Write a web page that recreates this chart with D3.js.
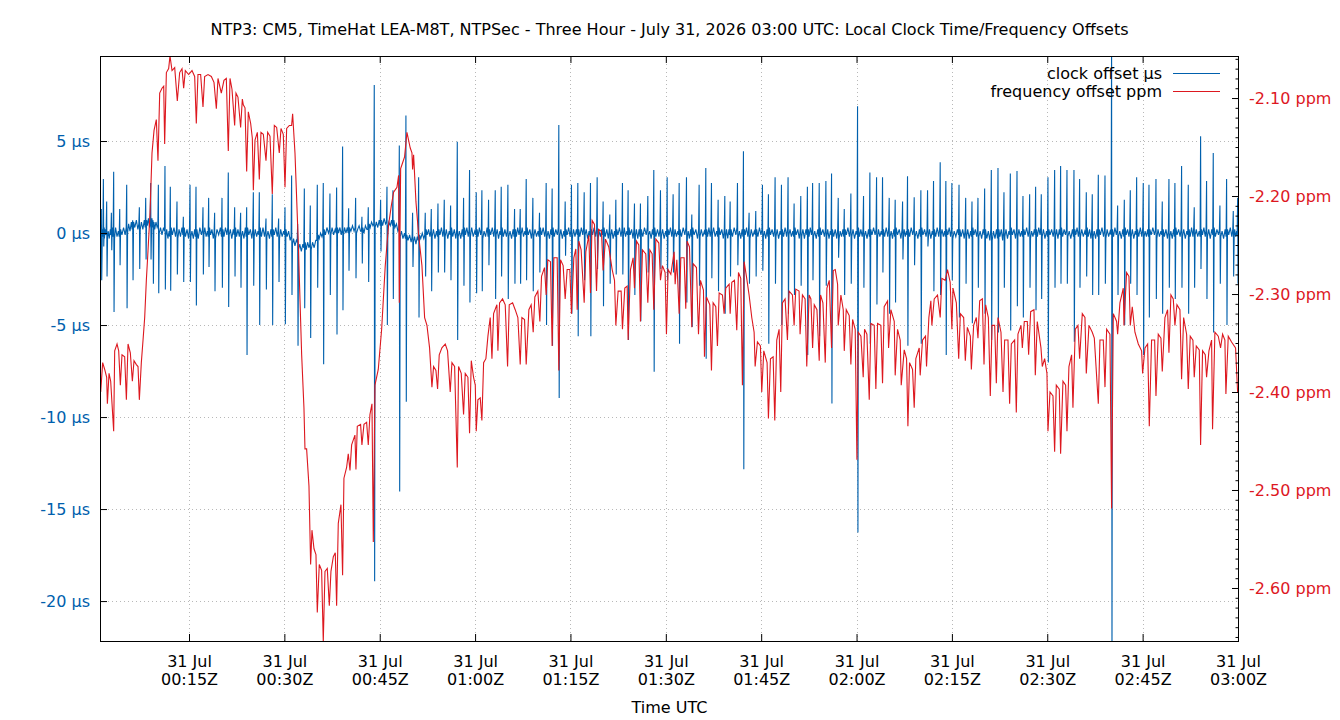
<!DOCTYPE html>
<html>
<head>
<meta charset="utf-8">
<script src="https://cdn.jsdelivr.net/npm/d3@7"></script>
<style>
  body { margin: 0; background: #fff; }
  svg { display: block; font-family: "DejaVu Sans", sans-serif; }
</style>
</head>
<body>
<div id="chart"></div>
<script>
// minutes after 00:00 UTC, 31 Jul 2026
const titleText = "NTP3: CM5, TimeHat LEA-M8T, NTPSec - Three Hour - July 31, 2026 03:00 UTC: Local Clock Time/Frequency Offsets";
const legendNames = ["clock offset µs", "frequency offset ppm"];
const clockTicks = [-20, -15, -10, -5, 0, 5];
const freqTicks = [-2.6, -2.5, -2.4, -2.3, -2.2, -2.1];

// clock offset, one row per poll spike:
// [minute, peak µs, trough µs, base before, base after, then three base readings across the gap]
const clockRows = [
  [1.21,1.30,-2.56,0.1,-0.3,0.2,-0.2,0.3],[1.53,2.93,-0.73,-0.2,0.3,-0.3,0.2,-0.1],[2.05,1.71,-2.36,0.2,-0.2,0.1,-0.3,0.2],
  [2.79,1.10,-0.93,-0.1,0.3,-0.2,0.3,-0.2],[3.15,3.33,-4.29,0.2,-0.3,0.3,-0.2,0.1],[4.10,1.30,-1.75,-0.2,0.2,-0.1,0.3,-0.1],
  [5.20,2.62,-4.09,0.3,0.0,0.5,0.1,0.6],[6.14,0.69,-2.56,0.2,0.6,0.3,0.7,0.2],[7.19,1.40,-1.95,0.5,0.2,0.6,0.2,0.7],
  [8.19,1.91,-1.44,0.3,0.7,0.4,0.8,0.3],[8.97,2.72,-1.44,0.6,0.2,0.5,0.8,0.4],[9.34,0.69,-2.76,0.3,0.6,0.2,0.6,0.3],
  [10.18,2.62,-3.27,0.4,0.0,0.3,-0.1,0.3],[11.22,3.64,-3.07,0.1,-0.2,0.2,-0.3,0.1],[12.06,2.52,-3.13,-0.2,0.3,-0.1,0.3,-0.2],
  [13.11,1.71,-2.26,0.2,-0.3,0.2,-0.2,0.3],[14.11,0.89,-2.66,-0.1,0.3,-0.2,0.2,-0.3],[15.16,2.62,-2.66,0.3,-0.2,0.1,-0.3,0.2],
  [16.10,2.52,-3.94,-0.2,0.2,-0.3,0.3,-0.1],[17.20,1.40,-2.26,0.2,-0.1,0.3,-0.2,0.1],[18.09,1.91,-1.85,-0.2,0.3,-0.1,0.2,-0.3],
  [19.03,1.10,-3.17,0.1,-0.3,0.2,-0.1,0.3],[20.19,1.91,-2.97,-0.2,0.2,-0.2,0.3,-0.1],[21.18,3.29,-4.02,0.3,-0.1,0.2,-0.3,0.2],
  [22.18,1.40,-2.36,-0.1,0.3,-0.2,0.2,-0.2],[23.12,1.10,-2.97,0.2,-0.2,0.1,-0.3,0.3],[24.07,1.40,-6.63,-0.2,0.3,-0.1,0.2,-0.3],
  [25.12,2.22,-2.87,0.2,-0.2,0.2,-0.2,0.1],[26.06,2.22,-5.00,-0.1,0.3,-0.2,0.3,-0.2],[27.11,0.79,-3.07,0.2,-0.2,0.1,-0.3,0.2],
  [28.10,2.11,-5.00,-0.2,0.2,-0.1,0.3,-0.2],[29.10,0.79,-2.66,0.2,-0.3,0.2,-0.2,0.1],[30.10,1.40,-4.96,-0.1,0.2,-0.2,0.1,-0.4],
  [31.14,3.13,-3.37,-0.2,-0.6,-0.3,-0.7,-0.4],[32.09,0.49,-6.12,-0.5,-0.9,-0.6,-1.0,-0.6],[33.14,2.42,-4.09,-0.8,-0.5,-0.9,-0.5,-0.8],
  [34.08,1.50,-5.71,-0.6,-0.9,-0.5,-0.8,-0.4],[35.18,2.62,-2.97,-0.4,-0.1,-0.3,0.0,-0.2],[36.12,2.72,-7.13,0.0,0.2,-0.1,0.3,0.0],
  [37.17,2.15,-3.37,0.2,-0.1,0.3,-0.1,0.2],[38.22,2.48,-5.51,0.0,0.3,0.0,0.3,-0.1],[39.16,4.70,-4.19,0.2,-0.1,0.3,0.0,0.3],
  [40.11,1.34,-2.05,0.0,0.3,0.1,0.4,0.1],[41.21,1.91,-2.46,0.3,0.0,0.2,0.4,0.1],[42.20,0.89,-1.65,0.1,0.3,0.0,0.4,0.2],
  [43.20,1.40,-2.66,0.2,0.5,0.3,0.6,0.4],[44.14,8.05,-18.92,0.5,0.3,0.6,0.3,0.7],[45.14,1.81,-1.00,0.4,0.7,0.4,0.8,0.5],
  [46.14,2.52,-5.00,0.6,0.3,0.6,0.4,0.7],[47.08,2.32,-3.58,0.4,0.7,0.3,0.5,0.1],[48.08,4.76,-14.04,0.2,-0.2,0.1,-0.3,0.0],
  [49.12,6.38,-9.17,-0.3,-0.1,-0.4,-0.1,-0.5],[50.17,1.10,-1.85,-0.2,-0.5,-0.2,-0.6,-0.2],[51.12,3.03,-4.59,-0.4,-0.1,-0.3,0.0,-0.3],
  [52.16,1.10,-2.36,-0.1,0.2,-0.1,0.2,-0.2],[53.11,1.30,-3.17,0.1,-0.2,0.2,-0.3,0.1],[54.16,1.61,-2.15,-0.2,0.2,-0.1,0.3,-0.2],
  [55.15,1.81,-2.15,0.2,-0.2,0.2,-0.3,0.1],[56.15,1.50,-2.56,-0.1,0.3,-0.2,0.2,-0.3],[57.20,4.96,-5.81,0.2,-0.2,0.1,-0.3,0.2],
  [58.19,1.91,-2.87,-0.2,0.3,-0.1,0.3,-0.2],[59.13,3.43,-3.78,0.2,-0.2,0.3,-0.2,0.1],[60.18,2.22,-3.27,-0.1,0.2,-0.2,0.3,-0.1],
  [61.07,2.32,-3.17,0.2,-0.3,0.1,-0.2,0.3],[62.12,1.81,-1.75,-0.2,0.2,-0.1,0.3,-0.2],[63.17,2.32,-3.58,0.3,-0.1,0.2,-0.3,0.1],
  [64.11,2.52,-2.36,-0.1,0.3,-0.2,0.2,-0.2],[65.16,2.62,-3.58,0.2,-0.2,0.1,-0.3,0.2],[66.21,1.30,-2.76,-0.2,0.2,-0.2,0.3,-0.1],
  [67.10,1.30,-2.76,0.2,-0.1,0.3,-0.2,0.1],[68.04,2.93,-2.56,-0.1,0.3,-0.1,0.2,-0.3],[69.09,1.91,-3.17,0.2,-0.2,0.2,-0.2,0.1],
  [70.13,1.10,-2.15,-0.2,0.3,-0.1,0.3,-0.2],[71.18,2.72,-5.00,0.2,-0.2,0.1,-0.3,0.2],[72.12,2.42,-6.12,-0.1,0.3,-0.2,0.2,-0.1],
  [73.17,5.87,-8.96,0.3,-0.2,0.2,-0.3,0.1],[74.17,1.71,-1.24,-0.2,0.2,-0.1,0.3,-0.2],[75.16,2.62,-4.39,0.2,-0.3,0.2,-0.2,0.2],
  [76.16,2.72,-5.61,-0.1,0.2,-0.2,0.3,-0.1],[77.16,2.22,-2.56,0.3,-0.1,0.2,-0.3,0.1],[78.15,2.72,-5.61,-0.2,0.2,-0.1,0.3,-0.2],
  [79.20,3.03,-1.95,0.2,-0.3,0.1,-0.2,0.2],[80.14,1.71,-3.98,-0.1,0.3,-0.2,0.2,-0.3],[81.19,1.00,-2.76,0.2,-0.2,0.2,-0.3,0.1],
  [82.14,1.81,-2.26,-0.2,0.2,-0.1,0.3,-0.2],[83.18,2.72,-2.26,0.2,-0.2,0.3,-0.2,0.1],[84.07,2.32,-5.81,-0.1,0.3,-0.1,0.2,-0.3],
  [85.07,1.61,-3.37,0.2,-0.2,0.2,-0.3,0.2],[86.01,1.61,-4.80,-0.2,0.2,-0.2,0.3,-0.1],[87.17,2.01,-2.15,0.3,-0.1,0.1,-0.3,0.2],
  [88.11,3.43,-7.54,-0.1,0.3,-0.2,0.2,-0.2],[89.16,2.32,-1.95,0.2,-0.2,0.2,-0.3,0.1],[90.21,3.03,-2.56,-0.2,0.2,-0.1,0.3,-0.2],
  [91.15,2.11,-2.15,0.2,-0.3,0.2,-0.2,0.1],[92.10,2.72,-6.02,-0.1,0.2,-0.2,0.3,-0.1],[93.25,3.03,-3.78,0.3,-0.2,0.1,-0.3,0.2],
  [94.09,1.00,-5.10,-0.2,0.3,-0.1,0.2,-0.3],[95.24,2.62,-2.87,0.2,-0.2,0.2,-0.2,0.1],[96.29,3.54,-6.83,-0.1,0.2,-0.2,0.3,-0.2],
  [97.18,2.72,-2.46,0.2,-0.1,0.3,-0.2,0.1],[98.23,1.81,-3.17,-0.2,0.3,-0.1,0.2,-0.3],[99.28,2.01,-4.39,0.2,-0.2,0.2,-0.3,0.2],
  [100.12,1.71,-2.36,-0.1,0.2,-0.2,0.3,-0.1],[101.27,2.72,-1.75,0.3,-0.2,0.1,-0.3,0.2],[102.21,4.45,-12.83,-0.2,0.2,-0.1,0.3,-0.2],
  [103.10,1.10,-2.76,0.2,-0.3,0.2,-0.2,0.1],[104.15,1.20,-2.36,-0.1,0.2,-0.2,0.3,-0.1],[105.20,2.62,-2.05,0.2,-0.2,0.1,-0.3,0.2],
  [106.14,2.11,-6.02,-0.2,0.3,-0.1,0.2,-0.2],[107.19,3.03,-2.76,0.2,-0.2,0.2,-0.3,0.1],[108.19,2.62,-5.00,-0.1,0.2,-0.2,0.3,-0.2],
  [109.23,3.03,-4.39,0.3,-0.1,0.2,-0.2,0.1],[110.18,1.61,-3.37,-0.2,0.3,-0.1,0.2,-0.3],[111.23,2.01,-2.87,0.2,-0.2,0.2,-0.3,0.2],
  [112.27,2.52,-6.63,-0.1,0.2,-0.2,0.3,-0.1],[113.09,2.72,-2.56,0.2,-0.2,0.1,-0.3,0.2],[114.13,2.72,-5.61,-0.2,0.3,-0.1,0.2,-0.2],
  [115.18,2.83,-2.87,0.2,-0.2,0.2,-0.3,0.1],[116.07,3.23,-9.27,-0.1,0.2,-0.2,0.2,-0.3],[117.12,1.91,-1.34,0.2,-0.3,0.1,-0.2,0.2],
  [118.07,1.30,-3.37,-0.2,0.2,-0.1,0.3,-0.2],[119.11,2.15,-2.76,0.2,-0.2,0.2,-0.3,0.1],[120.16,6.89,-16.28,-0.1,0.3,-0.2,0.2,-0.2],
  [121.10,2.01,-2.97,0.2,-0.2,0.1,-0.3,0.2],[122.10,3.29,-6.02,-0.2,0.2,-0.1,0.3,-0.1],[123.15,3.03,-3.88,0.2,-0.3,0.2,-0.2,0.1],
  [124.09,3.03,-2.15,-0.1,0.2,-0.2,0.3,-0.2],[125.14,1.91,-4.39,0.3,-0.2,0.1,-0.3,0.2],[126.08,1.81,-3.78,-0.2,0.3,-0.1,0.2,-0.3],
  [127.24,1.71,-1.44,0.2,-0.2,0.2,-0.2,0.1],[128.02,3.09,-6.12,-0.1,0.2,-0.2,0.3,-0.1],[129.07,1.95,-1.75,0.2,-0.2,0.1,-0.3,0.2],
  [130.12,2.32,-6.02,-0.2,0.3,-0.1,0.2,-0.2],[131.17,2.32,-0.73,0.2,-0.2,0.2,-0.3,0.1],[132.11,2.83,-3.17,-0.1,0.2,-0.2,0.3,-0.2],
  [133.16,3.84,-3.37,0.3,-0.1,0.2,-0.2,0.1],[134.05,2.83,-6.63,-0.2,0.2,-0.1,0.3,-0.2],[135.00,2.72,-2.56,0.2,-0.3,0.1,-0.2,0.2],
  [136.12,2.62,-4.59,-0.1,0.2,-0.2,0.2,-0.3],[137.17,1.91,-2.76,0.2,-0.2,0.2,-0.3,0.1],[138.16,1.71,-4.90,-0.2,0.3,-0.1,0.2,-0.2],
  [139.10,1.91,-2.97,0.2,-0.2,0.1,-0.3,0.2],[140.15,2.42,-4.39,-0.1,0.2,-0.3,0.1,-0.4],[141.20,3.43,-5.81,0.2,-0.4,0.1,-0.3,0.2],
  [142.25,3.54,-5.41,-0.3,0.2,-0.2,0.2,-0.4],[143.19,2.22,-2.97,0.2,-0.2,0.2,-0.3,0.1],[144.19,3.23,-5.30,-0.1,0.3,-0.1,0.2,-0.3],
  [145.24,3.37,-3.98,0.2,-0.2,0.2,-0.2,0.1],[146.18,2.01,-4.59,-0.2,0.2,-0.1,0.3,-0.2],[147.23,2.11,-2.97,0.2,-0.3,0.1,-0.2,0.2],
  [148.17,2.52,-4.19,-0.1,0.2,-0.2,0.3,-0.1],[149.06,2.11,-3.58,0.3,-0.2,0.2,-0.3,0.1],[150.11,3.03,-7.03,-0.2,0.2,-0.1,0.2,-0.2],
  [151.16,3.43,-2.97,0.2,-0.2,0.2,-0.3,0.2],[152.10,3.64,-2.76,-0.1,0.3,-0.2,0.2,-0.1],[153.10,3.43,-2.76,0.2,-0.2,0.1,-0.3,0.2],
  [154.20,3.43,-5.91,-0.2,0.2,-0.1,0.3,-0.2],[155.09,2.93,-2.97,0.2,-0.2,0.2,-0.2,0.1],[156.14,2.22,-2.36,-0.1,0.3,-0.2,0.2,-0.3],
  [157.08,2.11,-3.37,0.2,-0.2,0.1,-0.3,0.2],[158.03,3.17,-3.37,-0.2,0.2,-0.1,0.3,-0.2],[159.08,3.13,-2.76,0.2,-0.3,0.2,-0.2,0.1],
  [160.12,10.5,-23.5,-0.1,0.2,-0.2,0.3,-0.1],[161.07,1.50,-3.37,0.2,-0.2,0.1,-0.3,0.2],[162.12,1.81,-5.00,-0.2,0.3,-0.1,0.2,-0.2],
  [163.06,2.32,-2.76,0.2,-0.2,0.2,-0.3,0.1],[164.06,3.03,-3.37,-0.1,0.2,-0.2,0.3,-0.2],[165.10,2.72,-6.63,0.3,-0.2,0.1,-0.2,0.2],
  [166.00,2.62,-4.59,-0.2,0.2,-0.1,0.3,-0.1],[167.10,2.93,-3.58,0.2,-0.3,0.2,-0.2,0.1],[168.09,1.71,-4.39,-0.1,0.2,-0.2,0.2,-0.3],
  [169.14,2.93,-2.97,0.2,-0.2,0.1,-0.3,0.2],[170.08,2.72,-3.58,-0.2,0.3,-0.1,0.2,-0.2],[171.13,3.64,-2.97,0.2,-0.2,0.2,-0.3,0.1],
  [172.18,2.62,-4.39,-0.1,0.2,-0.2,0.3,-0.2],[173.12,1.40,-2.97,0.3,-0.1,0.2,-0.2,0.1],[174.12,5.26,-1.95,-0.2,0.2,-0.1,0.3,-0.2],
  [175.06,2.83,-3.58,0.2,-0.2,0.2,-0.3,0.2],[176.11,4.35,-5.41,-0.1,0.3,-0.2,0.2,-0.1],[177.16,1.50,-2.76,0.2,-0.2,0.1,-0.3,0.2],
  [178.21,2.93,-5.00,-0.2,0.2,-0.1,0.3,-0.2],[179.26,1.20,-2.36,0.2,-0.2,0.2,-0.2,0.1],[179.95,1.91,-2.76,-0.1,0.2,-0.3,0.2,-0.1]
];

// frequency offset: [minute, ppm]
const freqPoints = [
  [1.11,-2.400],[1.42,-2.370],[1.74,-2.377],[2.05,-2.385],[2.16,-2.412],[2.42,-2.381],[2.68,-2.389],[3.15,-2.440],
  [3.31,-2.358],[3.68,-2.351],[3.94,-2.358],[4.20,-2.393],[4.46,-2.362],[4.88,-2.364],[5.15,-2.408],[5.41,-2.351],
  [5.77,-2.360],[6.09,-2.389],[6.35,-2.368],[6.72,-2.372],[6.98,-2.374],[7.19,-2.408],[7.50,-2.370],[7.77,-2.347],
  [8.03,-2.324],[8.29,-2.286],[8.55,-2.256],[8.87,-2.217],[9.18,-2.156],[9.50,-2.133],[9.86,-2.122],[10.12,-2.164],
  [10.39,-2.095],[10.75,-2.090],[11.02,-2.088],[11.17,-2.147],[11.44,-2.074],[11.80,-2.070],[12.01,-2.057],[12.33,-2.072],
  [12.75,-2.069],[13.16,-2.103],[13.53,-2.074],[13.90,-2.070],[14.16,-2.090],[14.42,-2.072],[14.95,-2.076],[15.47,-2.072],
  [15.89,-2.078],[16.15,-2.126],[16.41,-2.076],[16.83,-2.076],[17.20,-2.109],[17.46,-2.078],[17.99,-2.076],[18.51,-2.078],
  [18.93,-2.084],[19.30,-2.111],[19.56,-2.080],[20.08,-2.095],[20.50,-2.082],[20.87,-2.080],[21.18,-2.154],[21.45,-2.080],
  [21.76,-2.091],[22.18,-2.128],[22.39,-2.095],[22.70,-2.099],[23.12,-2.130],[23.39,-2.101],[23.54,-2.107],[23.81,-2.110],
  [24.07,-2.175],[24.33,-2.114],[24.70,-2.126],[24.96,-2.141],[25.12,-2.194],[25.38,-2.143],[25.75,-2.135],[26.06,-2.183],
  [26.32,-2.135],[26.69,-2.137],[27.11,-2.164],[27.37,-2.135],[27.74,-2.139],[28.10,-2.198],[28.42,-2.128],[28.79,-2.130],
  [29.20,-2.156],[29.47,-2.131],[29.83,-2.137],[30.10,-2.191],[30.36,-2.131],[30.78,-2.128],[31.14,-2.128],[31.30,-2.116],
  [31.67,-2.156],[32.19,-2.248],[32.72,-2.362],[33.08,-2.416],[33.24,-2.458],[33.50,-2.458],[33.87,-2.496],[34.13,-2.576],
  [34.34,-2.541],[34.66,-2.560],[34.97,-2.566],[35.18,-2.625],[35.49,-2.576],[35.86,-2.582],[36.12,-2.655],[36.39,-2.583],
  [36.75,-2.580],[37.07,-2.618],[37.33,-2.583],[37.70,-2.568],[38.01,-2.564],[38.22,-2.618],[38.48,-2.534],[38.90,-2.515],
  [39.16,-2.587],[39.37,-2.488],[39.79,-2.477],[40.05,-2.463],[40.32,-2.480],[40.58,-2.454],[41.10,-2.444],[41.26,-2.479],
  [41.47,-2.435],[41.99,-2.433],[42.20,-2.454],[42.52,-2.433],[42.94,-2.431],[43.20,-2.454],[43.46,-2.423],[43.78,-2.412],
  [43.99,-2.553],[44.25,-2.393],[44.77,-2.377],[45.30,-2.336],[45.87,-2.271],[46.40,-2.229],[46.82,-2.210],[47.18,-2.196],
  [47.71,-2.191],[47.97,-2.179],[48.08,-2.309],[48.29,-2.172],[48.60,-2.166],[48.91,-2.160],[49.28,-2.135],[49.80,-2.151],
  [50.07,-2.156],[50.17,-2.173],[50.33,-2.158],[50.70,-2.206],[51.12,-2.240],[51.64,-2.271],[52.06,-2.324],[52.43,-2.332],
  [52.84,-2.355],[53.21,-2.395],[53.47,-2.374],[53.84,-2.378],[54.10,-2.397],[54.36,-2.362],[54.78,-2.355],[55.31,-2.351],
  [55.67,-2.358],[56.09,-2.400],[56.36,-2.370],[56.78,-2.374],[57.20,-2.477],[57.40,-2.374],[57.82,-2.381],[58.19,-2.423],
  [58.45,-2.381],[58.87,-2.385],[59.13,-2.442],[59.40,-2.368],[59.76,-2.385],[60.03,-2.393],[60.18,-2.440],[60.44,-2.408],
  [60.81,-2.406],[61.07,-2.429],[61.34,-2.370],[61.70,-2.366],[62.02,-2.343],[62.38,-2.324],[62.65,-2.366],[62.91,-2.320],
  [63.43,-2.311],[63.59,-2.358],[63.85,-2.309],[64.32,-2.305],[64.74,-2.311],[65.11,-2.374],[65.37,-2.311],[65.90,-2.309],
  [66.31,-2.316],[66.73,-2.324],[67.10,-2.372],[67.36,-2.324],[67.78,-2.326],[68.04,-2.372],[68.46,-2.316],[68.82,-2.311],
  [69.14,-2.339],[69.40,-2.303],[69.87,-2.297],[70.19,-2.328],[70.45,-2.282],[70.92,-2.273],[71.18,-2.301],[71.44,-2.265],
  [71.86,-2.267],[72.12,-2.353],[72.39,-2.263],[72.91,-2.263],[73.17,-2.378],[73.44,-2.265],[73.85,-2.271],[74.17,-2.305],
  [74.48,-2.275],[74.90,-2.275],[75.16,-2.320],[75.53,-2.263],[75.85,-2.254],[76.06,-2.316],[76.32,-2.246],[76.68,-2.255],
  [77.16,-2.309],[77.42,-2.257],[77.89,-2.240],[78.15,-2.299],[78.41,-2.225],[78.78,-2.229],[79.10,-2.297],[79.41,-2.234],
  [79.88,-2.236],[80.14,-2.276],[80.51,-2.244],[81.03,-2.252],[81.56,-2.275],[81.93,-2.286],[82.14,-2.332],[82.50,-2.297],
  [82.97,-2.297],[83.18,-2.336],[83.55,-2.294],[83.92,-2.292],[84.07,-2.347],[84.44,-2.275],[84.86,-2.263],[85.07,-2.294],
  [85.39,-2.246],[85.75,-2.250],[86.01,-2.328],[86.33,-2.255],[86.85,-2.259],[87.17,-2.309],[87.48,-2.255],[87.85,-2.259],
  [88.11,-2.316],[88.43,-2.244],[88.90,-2.248],[89.16,-2.286],[89.47,-2.271],[89.89,-2.278],[90.10,-2.341],[90.36,-2.275],
  [90.79,-2.280],[91.31,-2.257],[91.47,-2.290],[91.73,-2.265],[92.10,-2.320],[92.36,-2.263],[92.88,-2.263],[93.14,-2.315],
  [93.35,-2.246],[93.72,-2.252],[94.09,-2.334],[94.30,-2.269],[94.82,-2.273],[95.14,-2.341],[95.45,-2.286],[95.92,-2.296],
  [96.08,-2.364],[96.39,-2.303],[96.92,-2.311],[97.18,-2.378],[97.44,-2.309],[97.86,-2.313],[98.12,-2.353],[98.39,-2.299],
  [98.91,-2.301],[99.17,-2.320],[99.43,-2.294],[99.96,-2.290],[100.12,-2.320],[100.38,-2.288],[100.80,-2.286],[101.16,-2.337],
  [101.43,-2.278],[101.79,-2.284],[102.05,-2.393],[102.32,-2.267],[102.68,-2.282],[103.10,-2.301],[103.52,-2.324],[103.89,-2.339],
  [104.05,-2.374],[104.41,-2.349],[104.88,-2.353],[105.09,-2.400],[105.41,-2.358],[105.93,-2.370],[106.14,-2.427],[106.46,-2.366],
  [106.88,-2.364],[107.14,-2.429],[107.45,-2.347],[107.82,-2.336],[108.08,-2.400],[108.34,-2.309],[108.76,-2.305],[109.13,-2.347],
  [109.39,-2.297],[109.92,-2.301],[110.18,-2.332],[110.44,-2.295],[110.96,-2.297],[111.12,-2.341],[111.49,-2.301],[111.91,-2.305],
  [112.17,-2.374],[112.54,-2.301],[112.82,-2.305],[113.09,-2.355],[113.35,-2.311],[113.77,-2.316],[114.13,-2.368],[114.34,-2.301],
  [114.71,-2.309],[115.08,-2.370],[115.34,-2.294],[115.71,-2.286],[116.07,-2.355],[116.34,-2.276],[116.65,-2.275],[117.02,-2.290],
  [117.12,-2.332],[117.54,-2.301],[117.91,-2.316],[118.07,-2.358],[118.38,-2.316],[118.85,-2.322],[119.11,-2.372],[119.38,-2.326],
  [119.79,-2.336],[120.06,-2.469],[120.27,-2.339],[120.69,-2.343],[121.05,-2.385],[121.26,-2.336],[121.63,-2.341],[122.00,-2.408],
  [122.26,-2.330],[122.78,-2.332],[123.04,-2.397],[123.31,-2.330],[123.83,-2.332],[124.09,-2.391],[124.35,-2.313],[124.88,-2.307],
  [125.04,-2.355],[125.40,-2.316],[125.93,-2.328],[126.08,-2.383],[126.45,-2.336],[126.87,-2.347],[127.03,-2.393],[127.50,-2.357],
  [127.87,-2.366],[128.08,-2.435],[128.34,-2.370],[128.81,-2.377],[129.07,-2.416],[129.33,-2.366],[129.86,-2.355],[130.01,-2.383],
  [130.38,-2.347],[130.85,-2.343],[131.01,-2.374],[131.38,-2.324],[131.69,-2.307],[131.85,-2.332],[132.22,-2.305],[132.74,-2.301],
  [133.16,-2.324],[133.42,-2.284],[133.95,-2.286],[134.31,-2.275],[134.73,-2.288],[135.00,-2.336],[135.17,-2.294],[135.70,-2.309],
  [136.07,-2.366],[136.33,-2.320],[136.85,-2.324],[137.11,-2.368],[137.43,-2.334],[137.90,-2.343],[138.06,-2.377],[138.42,-2.332],
  [138.84,-2.324],[139.10,-2.345],[139.37,-2.307],[139.79,-2.305],[140.05,-2.372],[140.31,-2.311],[140.73,-2.324],[141.04,-2.404],
  [141.31,-2.332],[141.73,-2.332],[141.99,-2.391],[142.25,-2.324],[142.72,-2.339],[143.04,-2.400],[143.30,-2.347],[143.82,-2.347],
  [144.08,-2.412],[144.35,-2.351],[144.87,-2.347],[145.13,-2.421],[145.39,-2.341],[145.87,-2.332],[146.08,-2.355],[146.39,-2.328],
  [146.86,-2.328],[147.07,-2.362],[147.39,-2.318],[147.91,-2.316],[148.12,-2.383],[148.43,-2.328],[149.01,-2.355],[149.22,-2.374],
  [149.59,-2.366],[149.95,-2.381],[150.11,-2.440],[150.43,-2.400],[150.90,-2.404],[151.16,-2.461],[151.42,-2.393],[151.89,-2.397],
  [152.10,-2.463],[152.47,-2.389],[152.89,-2.393],[153.10,-2.440],[153.41,-2.374],[153.83,-2.362],[154.04,-2.416],[154.41,-2.336],
  [154.83,-2.332],[155.09,-2.366],[155.51,-2.320],[155.93,-2.324],[156.14,-2.381],[156.56,-2.332],[157.08,-2.339],[157.40,-2.345],
  [158.03,-2.412],[158.29,-2.347],[158.81,-2.347],[159.08,-2.395],[159.34,-2.336],[159.86,-2.341],[160.12,-2.519],[160.39,-2.320],
  [160.91,-2.328],[161.07,-2.341],[161.43,-2.309],[161.96,-2.294],[162.06,-2.332],[162.48,-2.278],[162.85,-2.282],[163.06,-2.332],
  [163.37,-2.313],[163.79,-2.339],[164.32,-2.351],[164.84,-2.358],[165.00,-2.381],[165.37,-2.355],[165.79,-2.351],[166.05,-2.435],
  [166.41,-2.347],[166.89,-2.347],[167.10,-2.404],[167.46,-2.341],[167.88,-2.345],[168.09,-2.379],[168.51,-2.324],[168.93,-2.316],
  [169.14,-2.360],[169.45,-2.301],[169.82,-2.305],[170.08,-2.332],[170.40,-2.311],[170.87,-2.316],[171.13,-2.387],[171.45,-2.324],
  [171.92,-2.341],[172.18,-2.397],[172.49,-2.343],[172.91,-2.347],[173.12,-2.385],[173.44,-2.353],[173.91,-2.357],[174.12,-2.454],
  [174.43,-2.358],[174.85,-2.362],[175.06,-2.385],[175.43,-2.358],[175.85,-2.347],[176.00,-2.438],[176.37,-2.339],[176.90,-2.343],
  [177.26,-2.355],[177.58,-2.341],[177.94,-2.347],[178.10,-2.402],[178.47,-2.343],[178.99,-2.349],[179.62,-2.355],[179.94,-2.400]
];

const blue = "#0060ad";
const red = "#dd181f";

const width = 1340, height = 720;
const margin = { top: 56, right: 101, bottom: 79, left: 100 };
const plotW = width - margin.left - margin.right;
const plotH = height - margin.top - margin.bottom;

const t0 = Date.UTC(2026, 6, 31, 0, 0, 0);
const toDate = (m) => new Date(t0 + m * 60000);

const x = d3.scaleUtc()
  .domain([toDate(1.0), toDate(180.16)])
  .range([0, plotW]);
const yClock = d3.scaleLinear().domain([-22.17, 9.62]).range([plotH, 0]);
const yFreq = d3.scaleLinear().domain([-2.6541, -2.0571]).range([plotH, 0]);

const svg = d3.select("#chart").append("svg")
  .attr("width", width)
  .attr("height", height);

svg.append("text")
  .attr("x", margin.left + plotW / 2)
  .attr("y", 35)
  .attr("text-anchor", "middle")
  .style("font-size", "16px")
  .text(titleText);

const g = svg.append("g").attr("transform", `translate(${margin.left},${margin.top})`);

g.append("clipPath").attr("id", "plot-clip")
  .append("rect").attr("width", plotW).attr("height", plotH);

// grid
const xTicks = x.ticks(d3.utcMinute.every(15));
g.append("g").selectAll("line")
  .data(xTicks)
  .join("line")
  .attr("x1", (d) => Math.round(x(d)) + 0.5)
  .attr("x2", (d) => Math.round(x(d)) + 0.5)
  .attr("y1", 0).attr("y2", plotH)
  .attr("stroke", "#b8b8b8").attr("stroke-dasharray", "1,3");
g.append("g").selectAll("line")
  .data(clockTicks)
  .join("line")
  .attr("x1", 0).attr("x2", plotW)
  .attr("y1", (d) => Math.round(yClock(d)) + 0.5)
  .attr("y2", (d) => Math.round(yClock(d)) + 0.5)
  .attr("stroke", "#b8b8b8").attr("stroke-dasharray", "1,3");

// series
const clockPts = [];
clockRows.forEach((r, i) => {
  const [t, hi, lo, b1, b2, b3, b4, b5] = r;
  const next = i < clockRows.length - 1 ? clockRows[i + 1][0] : t + 0.5;
  const gap = next - t;
  clockPts.push([t - 0.08, b1], [t, hi], [t + 0.06, lo], [t + 0.14, b2],
    [t + gap * 0.32, b3], [t + gap * 0.55, b4], [t + gap * 0.78, b5]);
});

const plot = g.append("g").attr("clip-path", "url(#plot-clip)");

plot.append("path")
  .datum(clockPts)
  .attr("fill", "none")
  .attr("stroke", blue)
  .attr("stroke-width", 1.1)
  .attr("d", d3.line().x((d) => x(toDate(d[0]))).y((d) => yClock(d[1])));

plot.append("path")
  .datum(freqPoints)
  .attr("fill", "none")
  .attr("stroke", red)
  .attr("stroke-width", 1.1)
  .attr("d", d3.line().x((d) => x(toDate(d[0]))).y((d) => yFreq(d[1])));

// axes, ticks pointing inward
const fontAxis = (sel) => sel.selectAll("text").style("font-size", "16px").style("font-family", "DejaVu Sans");

const leftAxis = g.append("g")
  .call(d3.axisLeft(yClock).tickValues(clockTicks).tickSizeInner(-7).tickSizeOuter(0).tickPadding(10)
    .tickFormat((d) => d + " µs"));
leftAxis.call(fontAxis);
leftAxis.selectAll("text").attr("fill", blue);

const rightAxis = g.append("g").attr("transform", `translate(${plotW},0)`)
  .call(d3.axisRight(yFreq).tickValues(freqTicks).tickSizeInner(-7).tickSizeOuter(0).tickPadding(10)
    .tickFormat((d) => d.toFixed(2) + " ppm"));
rightAxis.call(fontAxis);
rightAxis.selectAll("text").attr("fill", red);

g.append("g").attr("transform", `translate(${plotW},0)`)
  .call(d3.axisRight(yFreq).ticks(60).tickSizeInner(-3.5).tickSizeOuter(0).tickFormat(""));

const bottomAxis = g.append("g").attr("transform", `translate(0,${plotH})`)
  .call(d3.axisBottom(x).ticks(d3.utcMinute.every(15)).tickSizeInner(-7).tickSizeOuter(0).tickFormat(""));
bottomAxis.selectAll(".tick").each(function (d) {
  const t = d3.select(this).append("text")
    .attr("fill", "#000").attr("text-anchor", "middle")
    .style("font-size", "16px").style("font-family", "DejaVu Sans");
  t.append("tspan").attr("x", 0).attr("y", 26).text(d3.utcFormat("%d %b")(d));
  t.append("tspan").attr("x", 0).attr("y", 44).text(d3.utcFormat("%H:%MZ")(d));
});

g.append("g")
  .call(d3.axisTop(x).ticks(d3.utcMinute.every(15)).tickSizeInner(-7).tickSizeOuter(0).tickFormat(""));

g.selectAll(".domain").remove();
g.selectAll(".tick line").attr("stroke", "#000");

g.append("rect")
  .attr("x", 0.5).attr("y", 0.5)
  .attr("width", plotW - 1).attr("height", plotH)
  .attr("fill", "none").attr("stroke", "#000");

svg.append("text")
  .attr("x", margin.left + plotW / 2)
  .attr("y", 713)
  .attr("text-anchor", "middle")
  .style("font-size", "16px")
  .text("Time UTC");

// legend
const legend = g.append("g").attr("transform", `translate(${plotW - 19},0)`);
[blue, red].forEach((c, i) => {
  const yy = 17 + i * 18;
  legend.append("text")
    .attr("x", -58).attr("y", yy + 6)
    .attr("text-anchor", "end")
    .style("font-size", "16px")
    .text(legendNames[i]);
  legend.append("line")
    .attr("x1", -47).attr("x2", 0)
    .attr("y1", yy + 0.5).attr("y2", yy + 0.5)
    .attr("stroke", c);
});
</script>
</body>
</html>
